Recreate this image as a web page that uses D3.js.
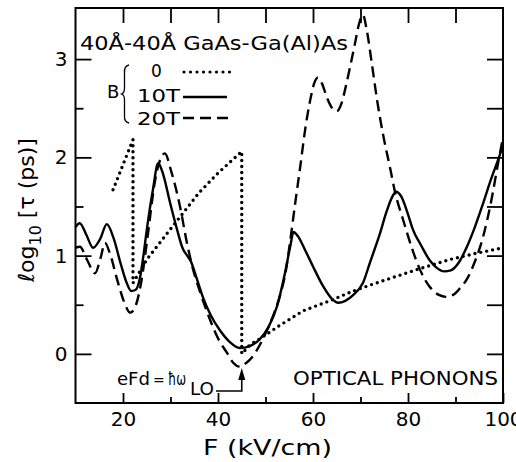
<!DOCTYPE html>
<html>
<head>
<meta charset="utf-8">
<script src="https://cdn.jsdelivr.net/npm/d3@7"></script>
<style>
  body { margin: 0; background: #fff; }
  svg { display: block; font-family: "DejaVu Sans", sans-serif; }
</style>
</head>
<body>
<svg></svg>
<script>
// field (kV/cm) and log10 tau (ps)
const fieldB0 = [17.9, 22.1, 22.1, 25, 30, 36, 40, 45.0, 45.0, 46.7, 49, 53, 58, 63.5, 68, 72, 77, 82, 88.8, 94, 100];
const tauB0   = [1.67, 2.18, 0.72, 0.96, 1.27, 1.64, 1.84, 2.06, 0.0, 0.09, 0.16, 0.29, 0.44, 0.54, 0.63, 0.70, 0.78, 0.86, 0.96, 1.02, 1.08];

const fieldB10 = [10, 10.9, 12.3, 13.7, 15.2, 16.6, 18, 19.5, 20.8, 21.7, 22.6, 23.6, 24.3, 25, 26.3, 27.4, 28.5, 29.9, 31.3, 32.6, 33.5, 34.3, 35.5, 36.8, 38.5, 40.4, 42.5, 44.6, 46.7, 48.8, 50.6, 52.4, 54, 55.2, 55.9, 56.8, 58.3, 60, 62, 64, 65.3, 66.8, 68.5, 70.5, 72, 74, 75.5, 76.7, 77.5, 78.6, 80, 81, 82.8, 84.6, 86.2, 87.6, 89, 90.7, 92.4, 94, 95.8, 97.5, 99, 100];
const tauB10   = [1.29, 1.33, 1.21, 1.08, 1.17, 1.32, 1.18, 0.92, 0.72, 0.64, 0.65, 0.78, 1.0, 1.26, 1.67, 1.94, 1.82, 1.54, 1.28, 1.07, 1.0, 0.94, 0.77, 0.58, 0.39, 0.24, 0.12, 0.06, 0.08, 0.15, 0.27, 0.48, 0.8, 1.09, 1.24, 1.2, 1.06, 0.89, 0.7, 0.56, 0.52, 0.54, 0.6, 0.72, 0.93, 1.21, 1.45, 1.6, 1.65, 1.6, 1.42, 1.27, 1.1, 0.95, 0.87, 0.84, 0.85, 0.93, 1.09, 1.28, 1.53, 1.78, 1.98, 2.12];

const fieldB20 = [10, 10.9, 12.5, 14.1, 15.3, 16.2, 17.2, 18.8, 20.3, 21.5, 22.5, 23.8, 25.2, 26.7, 28.8, 30.2, 32, 33.5, 34.7, 36.3, 38.3, 40.2, 41.9, 43.2, 44.6, 46, 47.4, 48.8, 50.3, 51.7, 53.1, 54.3, 55.2, 56.3, 57.3, 58.4, 59.4, 60.3, 61, 61.8, 63, 64.2, 65, 66, 66.9, 67.8, 68.8, 69.7, 70.5, 71.3, 72.4, 73.5, 74.8, 76.2, 77.3, 79, 81, 82.5, 84.6, 86.5, 88, 89.5, 90.8, 92.4, 94, 95.8, 97.5, 99, 100];
const tauB20   = [1.08, 1.09, 0.95, 0.82, 0.98, 1.13, 1.03, 0.75, 0.52, 0.42, 0.47, 0.72, 1.2, 1.75, 2.04, 1.85, 1.5, 1.12, 0.87, 0.62, 0.35, 0.14, 0.01, -0.09, -0.13, -0.09, -0.02, 0.09, 0.24, 0.4, 0.6, 0.85, 1.15, 1.55, 1.9, 2.3, 2.58, 2.76, 2.81, 2.76, 2.6, 2.49, 2.47, 2.55, 2.72, 2.92, 3.15, 3.36, 3.45, 3.3, 2.95, 2.58, 2.22, 1.9, 1.64, 1.36, 1.05, 0.86, 0.68, 0.6, 0.58, 0.6, 0.66, 0.76, 0.93, 1.19, 1.55, 1.95, 2.2];

const xMajor = [20, 40, 60, 80, 100];
const xMinor = [30, 50, 70, 90];
const xTop = [20, 30, 40, 50, 60, 70, 80, 90];
const yMajor = [0, 1, 2, 3];
const yMinor = [0.5, 1.5, 2.5];
const yRight = [0, 0.5, 1, 1.5, 2, 2.5, 3];
const legendLabels = ["0", "10T", "20T"];

const width = 516, height = 462;
const plotLeft = 75.5, plotRight = 503, plotTop = 8, plotBottom = 403;

const svg = d3.select('svg').attr('width', width).attr('height', height);

const x = d3.scaleLinear().domain([10, 100]).range([plotLeft, plotRight]);
const y = d3.scaleLinear().domain([-0.5, 3.52]).range([plotBottom, plotTop]);

const zip = (a, b) => a.map((v, i) => [v, b[i]]);

// frame
svg.append('rect')
    .attr('x', plotLeft).attr('y', plotTop)
    .attr('width', plotRight - plotLeft).attr('height', plotBottom - plotTop)
    .attr('fill', 'none').attr('stroke', '#000').attr('stroke-width', 2);

function styleAxis(g) {
    g.select('.domain').remove();
    g.selectAll('line').attr('stroke', '#000').attr('stroke-width', 1.8);
    g.selectAll('text').attr('fill', '#000')
        .attr('font-family', '"DejaVu Sans", sans-serif').attr('font-size', 20);
}

svg.append('g').attr('transform', `translate(0,${plotBottom})`)
    .call(d3.axisBottom(x).tickValues(xMajor).tickSize(-10).tickPadding(9).tickFormat(d3.format('d')))
    .call(styleAxis);
svg.append('g').attr('transform', `translate(0,${plotBottom})`)
    .call(d3.axisBottom(x).tickValues(xMinor).tickSize(-6).tickFormat(''))
    .call(styleAxis);
svg.append('g').attr('transform', `translate(0,${plotTop})`)
    .call(d3.axisTop(x).tickValues(xTop).tickSize(-15).tickFormat(''))
    .call(styleAxis);
svg.append('g').attr('transform', `translate(${plotLeft},0)`)
    .call(d3.axisLeft(y).tickValues(yMajor).tickSize(-16).tickPadding(8).tickFormat(d3.format('d')))
    .call(styleAxis);
svg.append('g').attr('transform', `translate(${plotLeft},0)`)
    .call(d3.axisLeft(y).tickValues(yMinor).tickSize(-8).tickFormat(''))
    .call(styleAxis);
svg.append('g').attr('transform', `translate(${plotRight},0)`)
    .call(d3.axisRight(y).tickValues(yRight).tickSize(-16).tickFormat(''))
    .call(styleAxis);

// curves
const smooth = d3.line().x(d => x(d[0])).y(d => y(d[1])).curve(d3.curveMonotoneX);
const straight = d3.line().x(d => x(d[0])).y(d => y(d[1]));

svg.append('path')
    .attr('d', straight(zip(fieldB0, tauB0)))
    .attr('fill', 'none').attr('stroke', '#000').attr('stroke-width', 3.4)
    .attr('stroke-linecap', 'round').attr('stroke-dasharray', '0,6');

svg.append('path')
    .attr('d', smooth(zip(fieldB10, tauB10)))
    .attr('fill', 'none').attr('stroke', '#000').attr('stroke-width', 2.4);

svg.append('path')
    .attr('d', smooth(zip(fieldB20, tauB20)))
    .attr('fill', 'none').attr('stroke', '#000').attr('stroke-width', 2.4)
    .attr('stroke-dasharray', '11,6');

// title
svg.append('text')
    .attr('x', 80).attr('y', 50)
    .attr('font-size', 20).attr('textLength', 268).attr('lengthAdjust', 'spacingAndGlyphs')
    .text('40Å-40Å  GaAs-Ga(Al)As');

// legend
svg.append('text').attr('x', 107).attr('y', 98).attr('font-size', 18).text('B');
svg.append('path')
    .attr('d', 'M129,65 Q124,66 124.5,73 L124.5,88 Q124.5,93 121.5,94 Q124.5,95 124.5,100 L124.5,116 Q124,122 129,123')
    .attr('fill', 'none').attr('stroke', '#000').attr('stroke-width', 1.3);

const legendY = [77, 102, 125];
const legendX = [151, 137, 137];
const legendW = [null, 43, 43];
legendLabels.forEach((lab, i) => {
    const t = svg.append('text').attr('x', legendX[i]).attr('y', legendY[i]).attr('font-size', 17).text(lab);
    if (legendW[i]) t.attr('textLength', legendW[i]).attr('lengthAdjust', 'spacingAndGlyphs');
});
svg.append('line').attr('x1', 184).attr('x2', 230).attr('y1', 72).attr('y2', 72)
    .attr('stroke', '#000').attr('stroke-width', 3.2).attr('stroke-linecap', 'round').attr('stroke-dasharray', '0,6.5');
svg.append('line').attr('x1', 183).attr('x2', 227).attr('y1', 97).attr('y2', 97)
    .attr('stroke', '#000').attr('stroke-width', 2.4);
svg.append('line').attr('x1', 183).attr('x2', 229).attr('y1', 118).attr('y2', 118)
    .attr('stroke', '#000').attr('stroke-width', 2.4).attr('stroke-dasharray', '11,6');

// annotation eFd = ħω_LO
const ann = svg.append('text').attr('y', 385).attr('font-size', 17);
ann.append('tspan').attr('x', 117).attr('textLength', 33).attr('lengthAdjust', 'spacingAndGlyphs').text('eFd');
ann.append('tspan').attr('x', 153).attr('font-size', 14).text('=');
ann.append('tspan').attr('x', 168).attr('textLength', 18).attr('lengthAdjust', 'spacingAndGlyphs').text('ħω');
ann.append('tspan').attr('x', 190).attr('dy', 10).attr('textLength', 24).attr('lengthAdjust', 'spacingAndGlyphs').text('LO');
svg.append('path').attr('d', `M216,391 H${x(45)} V378`)
    .attr('fill', 'none').attr('stroke', '#000').attr('stroke-width', 1.6);
svg.append('path').attr('d', `M${x(45)},368 L${x(45) - 3.5},380 L${x(45) + 3.5},380 Z`).attr('fill', '#000');

svg.append('text').attr('x', 293).attr('y', 385).attr('font-size', 20)
    .attr('textLength', 205).attr('lengthAdjust', 'spacingAndGlyphs').text('OPTICAL PHONONS');

// axis titles
svg.append('text').attr('x', 203).attr('y', 455).attr('font-size', 22)
    .attr('textLength', 129).attr('lengthAdjust', 'spacingAndGlyphs').text('F (kV/cm)');

const ylab = svg.append('text')
    .attr('transform', 'translate(34,282) rotate(-90)')
    .attr('font-size', 22);
ylab.append('tspan').text('ℓog');
ylab.append('tspan').attr('dy', 7).attr('font-size', 16).text('10');
ylab.append('tspan').attr('dy', -7).text(' [τ (ps)]');
</script>
</body>
</html>
